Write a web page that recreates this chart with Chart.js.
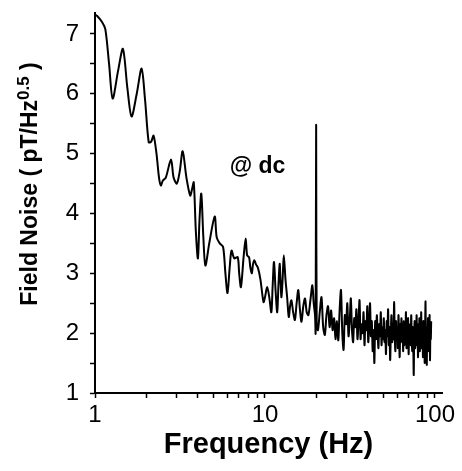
<!DOCTYPE html>
<html>
<head>
<meta charset="utf-8">
<script src="https://cdn.jsdelivr.net/npm/chart.js@4"></script>
<style>
  html, body { margin: 0; padding: 0; background: #fff; }
  canvas { display: block; }
</style>
</head>
<body>
<canvas id="noisechart" width="462" height="471"></canvas>
<script>
// traced points, 1 Hz up to the 20 Hz line
const lowFreq = [
    1.0, 1.03, 1.1, 1.15, 1.21, 1.27, 1.37, 1.46, 1.55, 1.64, 1.76, 1.88, 1.97, 2.07, 2.14, 2.21,
    2.3, 2.38, 2.44, 2.51, 2.61, 2.8, 2.9, 3.03, 3.15, 3.28, 3.45, 3.63, 3.72, 3.81, 3.92, 4.03,
    4.12, 4.22, 4.34, 4.46, 4.7, 5.06, 5.2, 5.42, 5.67, 5.85, 6.02, 6.2, 6.36, 6.6, 6.91, 7.05,
    7.22, 7.5, 7.7, 7.85, 8.06, 8.2, 8.37, 8.5, 8.66, 8.85, 9.07, 9.4, 9.8, 10.0, 10.3, 10.6,
    10.9, 11.1, 11.3, 11.55, 11.8, 12.0, 12.2, 12.35, 12.5, 12.7, 12.9, 13.2, 13.5, 13.8, 14.05, 14.3,
    14.65, 15.0, 15.35, 15.7, 16.05, 16.4, 16.8, 17.2, 17.6, 18.0, 18.5, 19.0, 19.35, 19.7, 19.85, 20.0,
    20.15
];
const lowNoise = [
    7.32, 7.3, 7.2, 7.08, 6.5, 5.92, 6.4, 6.75, 6.1, 5.62, 6.0, 6.42, 5.9, 5.19, 5.2, 5.3,
    5.0, 4.6, 4.47, 4.55, 4.6, 4.9, 4.6, 4.5, 4.7, 5.04, 4.6, 4.3, 4.4, 4.52, 3.7, 3.25,
    3.9, 4.33, 3.6, 3.13, 3.5, 3.95, 3.6, 3.5, 3.44, 3.0, 2.67, 3.1, 3.38, 3.25, 3.27, 3.0,
    2.77, 3.3, 3.58, 3.3, 3.27, 3.1, 3.0, 3.15, 3.22, 3.15, 3.1, 2.9, 2.52, 2.6, 2.77, 2.6,
    2.35, 2.8, 3.19, 2.7, 2.35, 2.8, 3.16, 2.85, 2.6, 2.9, 3.3, 2.9, 2.6, 2.27, 2.45, 2.55,
    2.35, 2.22, 2.5, 2.72, 2.4, 2.19, 2.45, 2.58, 2.35, 2.3, 2.55, 2.8, 2.5, 2.3, 2.0, 5.48,
    2.1
];

const highStart = 20.5;
const highStep = 0.5;
const highNoise = [
    2.05, 2.35, 2.6, 2.1, 1.97, 2.3, 2.45, 2.1, 2.38, 2.05, 2.25, 1.9, 2.2, 1.88, 2.4,
    2.72, 2.0, 1.72, 2.3, 2.15, 2.5, 1.95, 2.2, 2.58, 2.05, 1.85, 2.25, 2.1, 2.4, 1.9,
    2.2, 2.55, 1.9, 2.15, 2.0, 2.35, 1.8, 2.2, 2.05, 2.45, 1.85, 2.1, 2.5, 1.95, 2.2,
    1.7, 2.05, 1.5, 2.2, 1.9, 2.3, 2.0, 1.75, 2.15, 1.95, 2.35, 1.8, 2.1, 1.9, 2.25,
    1.85, 2.05, 1.65, 2.2, 1.95, 2.4, 1.8, 2.1, 1.55, 2.0, 2.3, 1.85, 2.15, 1.9, 2.52,
    1.95, 1.7, 2.2, 1.9, 2.05, 1.75, 2.3, 1.95, 1.6, 2.15, 1.85, 2.25, 1.9, 2.05, 1.7,
    2.2, 1.8, 2.1, 1.95, 2.35, 1.75, 2.0, 1.85, 2.25, 1.65, 2.05, 1.9, 2.15, 1.8, 2.3,
    1.95, 1.7, 2.1, 1.85, 1.3, 2.0, 2.2, 1.75, 2.05, 1.9, 2.3, 1.8, 2.0, 1.6, 2.15,
    1.85, 2.25, 1.7, 2.0, 1.9, 2.35, 1.75, 1.95, 2.1, 1.6, 2.2, 1.85, 2.05, 1.5, 2.0,
    2.53, 1.8, 2.1, 1.47, 2.0, 1.9, 2.25, 1.7, 2.05, 1.85, 2.3, 1.55, 2.0, 1.9, 2.2
];

const xTicks = [1, 2, 3, 4, 5, 6, 7, 8, 9, 10, 20, 30, 40, 50, 60, 70, 80, 90, 100];
const xLabels = [1, 10, 100];
const yTicks = [1, 1.5, 2, 2.5, 3, 3.5, 4, 4.5, 5, 5.5, 6, 6.5, 7];
const yLabels = [1, 2, 3, 4, 5, 6, 7];

const FONT = '"Liberation Sans", Arial, Helvetica, sans-serif';
Chart.defaults.font.family = FONT;
Chart.defaults.color = '#000';

const points = lowFreq.map((f, i) => ({ x: f, y: lowNoise[i] }))
    .concat(highNoise.map((v, i) => ({ x: highStart + i * highStep, y: v })));

// y title needs a superscript, and the "@ dc" note sits in the plot
const textPlugin = {
    id: 'textPlugin',
    afterDraw(chart) {
        const ctx = chart.ctx;
        const main = 'Field Noise ( pT/Hz';
        const sup = '0.5';
        const end = ' )';
        const mainFont = 'bold 23px ' + FONT;
        const supFont = 'bold 17px ' + FONT;

        ctx.save();
        ctx.fillStyle = '#000';
        ctx.translate(37, 184);
        ctx.rotate(-Math.PI / 2);
        ctx.textBaseline = 'alphabetic';
        ctx.font = mainFont;
        const w1 = ctx.measureText(main).width;
        const w3 = ctx.measureText(end).width;
        ctx.font = supFont;
        const w2 = ctx.measureText(sup).width;
        let cx = -(w1 + w2 + w3) / 2;
        ctx.font = mainFont;
        ctx.fillText(main, cx, 0);
        cx += w1;
        ctx.font = supFont;
        ctx.fillText(sup, cx, -8);
        cx += w2;
        ctx.font = mainFont;
        ctx.fillText(end, cx, 0);
        ctx.restore();

        ctx.save();
        ctx.fillStyle = '#000';
        ctx.font = 'bold 23px ' + FONT;
        ctx.textAlign = 'left';
        ctx.textBaseline = 'middle';
        ctx.fillText('@ dc', chart.scales.x.getPixelForValue(6.2), chart.scales.y.getPixelForValue(4.78));
        ctx.restore();
    }
};

const noiseChart = new Chart(document.getElementById('noisechart'), {
    type: 'scatter',
    data: {
        datasets: [{
            data: points,
            showLine: true,
            borderColor: '#000',
            borderWidth: 2,
            pointRadius: 0,
            tension: 0.3
        }]
    },
    options: {
        responsive: false,
        animation: false,
        devicePixelRatio: 1,
        layout: { padding: { top: 13, right: 20, left: 0, bottom: 0 } },
        plugins: {
            legend: { display: false },
            tooltip: { enabled: false }
        },
        scales: {
            x: {
                type: 'logarithmic',
                min: 1,
                max: 110,
                afterBuildTicks: (scale) => { scale.ticks = xTicks.map(v => ({ value: v })); },
                afterFit: (scale) => {
                    scale.height = 78;
                    scale.paddingLeft = 0;
                    scale.paddingRight = 0;
                },
                grid: { drawOnChartArea: false, drawTicks: true, tickLength: 5, color: '#000', tickWidth: 1.5 },
                border: { color: '#000', width: 2 },
                ticks: {
                    color: '#000',
                    font: { size: 24 },
                    padding: 3,
                    maxRotation: 0,
                    autoSkip: false,
                    callback: (v) => xLabels.includes(v) ? String(v) : ''
                },
                title: {
                    display: true,
                    text: 'Frequency (Hz)',
                    color: '#000',
                    font: { size: 29, weight: 'bold' },
                    padding: { top: 0, bottom: 9 }
                }
            },
            y: {
                min: 1,
                max: 7.35,
                afterBuildTicks: (scale) => { scale.ticks = yTicks.map(v => ({ value: v })); },
                afterFit: (scale) => {
                    scale.width = 95;
                    scale.paddingTop = 0;
                    scale.paddingBottom = 0;
                },
                grid: { drawOnChartArea: false, drawTicks: true, tickLength: 5, color: '#000', tickWidth: 1.5 },
                border: { color: '#000', width: 2 },
                ticks: {
                    color: '#000',
                    font: { size: 24 },
                    padding: 11,
                    autoSkip: false,
                    callback: (v) => yLabels.includes(v) ? String(v) : ''
                }
            }
        }
    },
    plugins: [textPlugin]
});
</script>
</body>
</html>
